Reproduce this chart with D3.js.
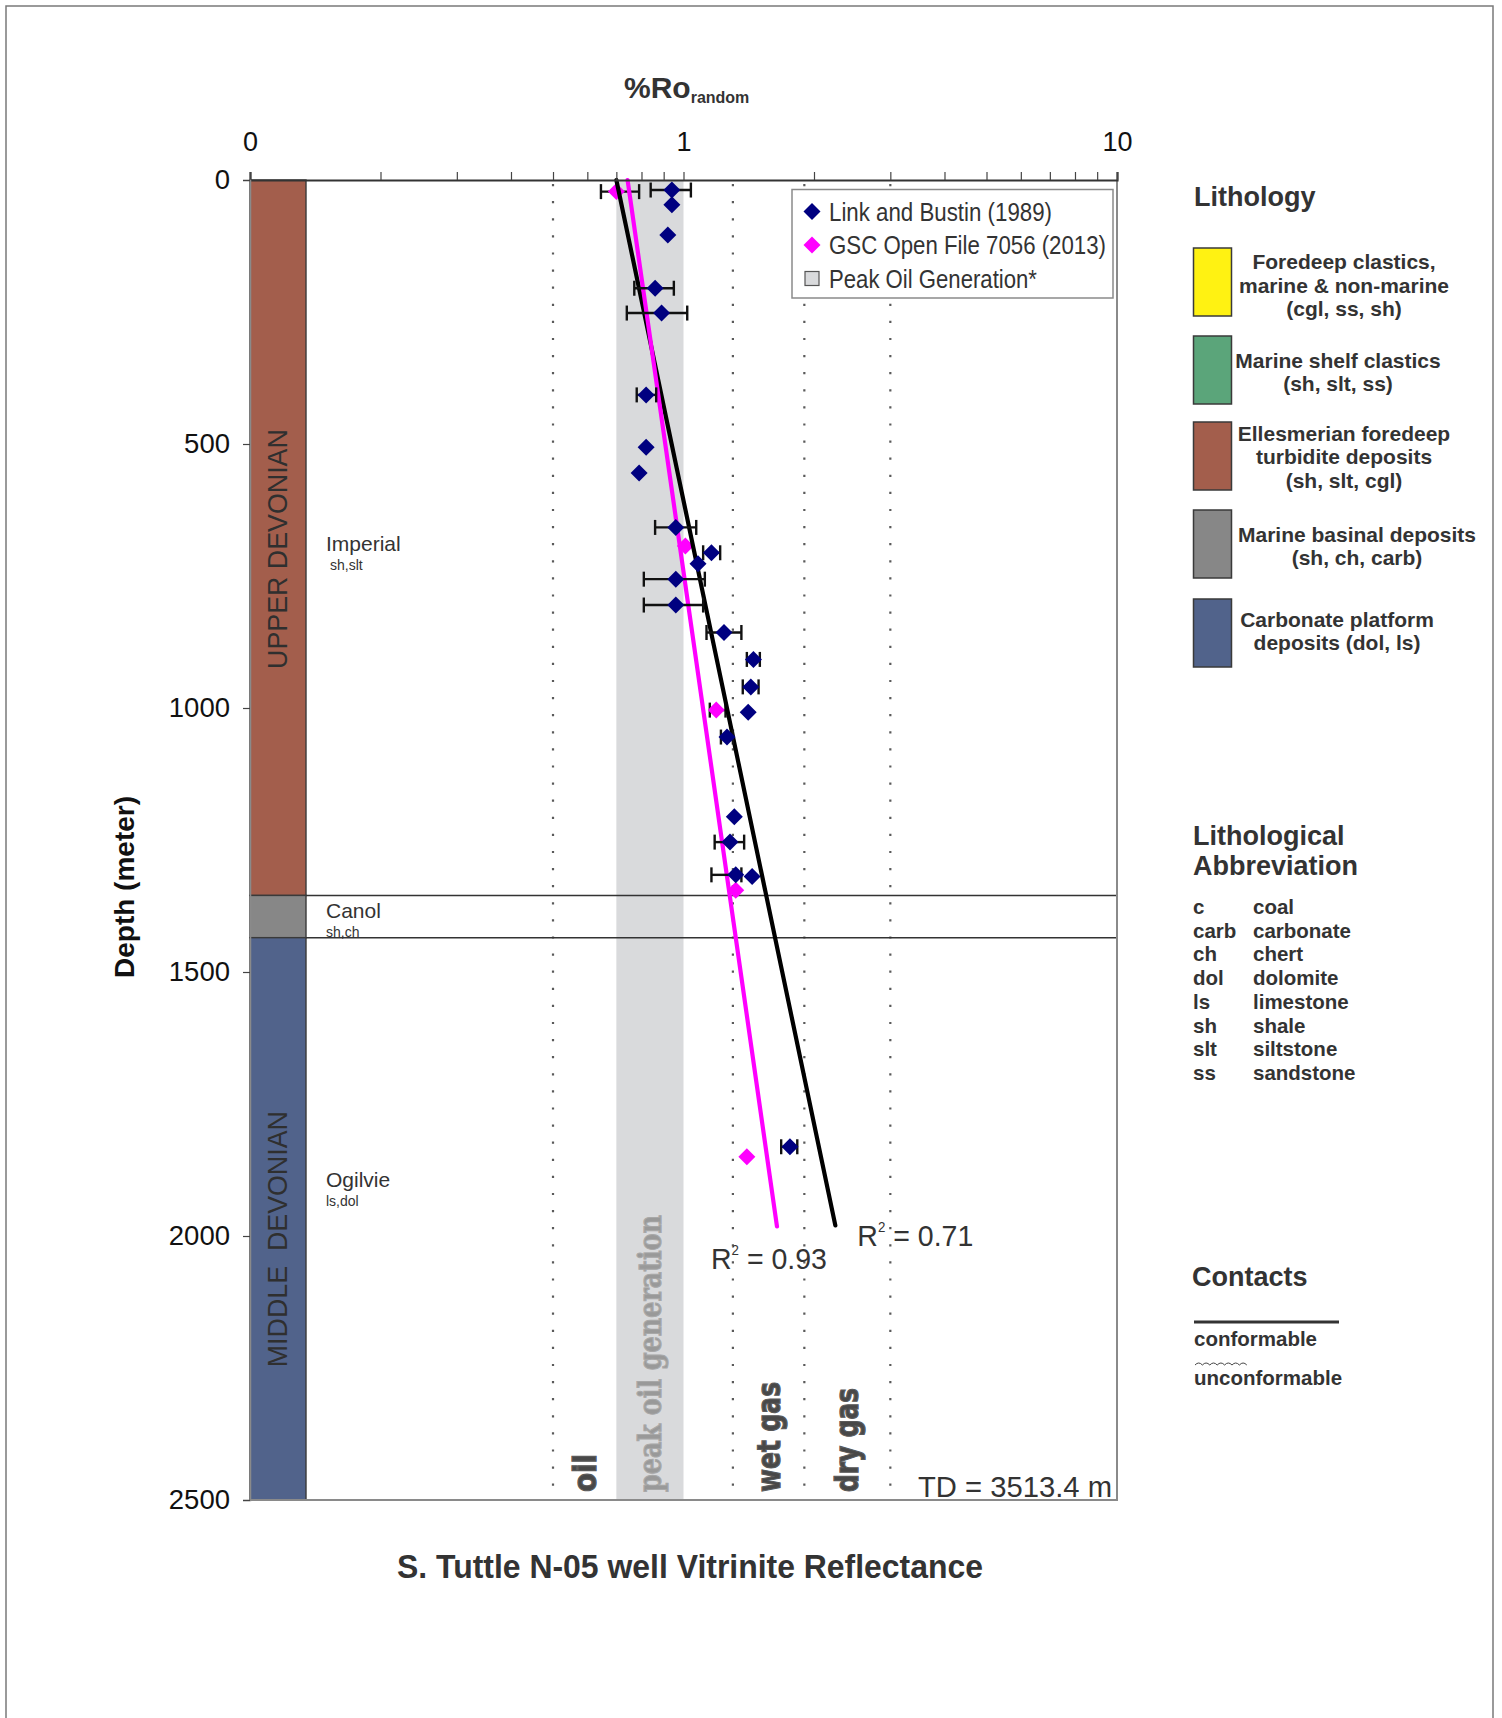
<!DOCTYPE html>
<html>
<head>
<meta charset="utf-8">
<script src="https://cdn.jsdelivr.net/npm/d3@7"></script>
<style>
  html, body { margin: 0; padding: 0; background: #fff; }
  svg { display: block; }
</style>
</head>
<body>
<script>
// ---------------- data ----------------
// %Ro axis (log scale, the 0.1 end is labelled "0")
const roDomain = [0.1, 10];
const roMajorTicks = [0.1, 1, 10];
const roMajorLabels = ["0", "1", "10"];
const roMinorTicks = [0.2, 0.3, 0.4, 0.5, 0.6, 0.7, 0.8, 0.9, 2, 3, 4, 5, 6, 7, 8, 9];

// Depth axis (m)
const depthDomain = [0, 2500];
const depthTicks = [0, 500, 1000, 1500, 2000, 2500];

// Maturity zones (%Ro)
const zoneBoundaries = [0.5, 1.3, 1.9, 3.0];
const peakOilWindow = [0.7, 1.0];
const zoneLabels = [
  { text: "oil", from: 0.5, to: 0.7 },
  { text: "peak oil generation", from: 0.7, to: 1.0 },
  { text: "wet gas", from: 1.3, to: 1.9 },
  { text: "dry gas", from: 1.9, to: 3.0 }
];

// Link and Bustin (1989) measurements: depth (m), mean %Ro, range
const linkBustin = [
  { depth: 19,   ro: 0.94, lo: 0.84, hi: 1.04 },
  { depth: 47,   ro: 0.94 },
  { depth: 104,  ro: 0.92 },
  { depth: 205,  ro: 0.86, lo: 0.77, hi: 0.95 },
  { depth: 252,  ro: 0.89, lo: 0.74, hi: 1.02 },
  { depth: 407,  ro: 0.82, lo: 0.78, hi: 0.865 },
  { depth: 506,  ro: 0.82 },
  { depth: 555,  ro: 0.79 },
  { depth: 658,  ro: 0.96, lo: 0.86, hi: 1.07 },
  { depth: 706,  ro: 1.16, lo: 1.11, hi: 1.215 },
  { depth: 727,  ro: 1.08 },
  { depth: 756,  ro: 0.96, lo: 0.81, hi: 1.12 },
  { depth: 805,  ro: 0.96, lo: 0.81, hi: 1.11 },
  { depth: 857,  ro: 1.24, lo: 1.13, hi: 1.36 },
  { depth: 908,  ro: 1.45, lo: 1.40, hi: 1.50 },
  { depth: 960,  ro: 1.43, lo: 1.37, hi: 1.49 },
  { depth: 1008, ro: 1.41 },
  { depth: 1055, ro: 1.26, lo: 1.22, hi: 1.30 },
  { depth: 1206, ro: 1.31 },
  { depth: 1254, ro: 1.28, lo: 1.18, hi: 1.38 },
  { depth: 1316, ro: 1.32, lo: 1.16, hi: 1.36 },
  { depth: 1319, ro: 1.44 },
  { depth: 1831, ro: 1.76, lo: 1.68, hi: 1.83 }
];

// GSC Open File 7056 (2013) measurements
const gscOpenFile = [
  { depth: 22,   ro: 0.70, lo: 0.645, hi: 0.79 },
  { depth: 693,  ro: 1.01 },
  { depth: 1004, ro: 1.19, lo: 1.15, hi: 1.25 },
  { depth: 1345, ro: 1.32 },
  { depth: 1850, ro: 1.40 }
];

// Exponential trend lines (straight on the log axis)
const trendLink = [{ depth: 0, ro: 0.70 }, { depth: 1980, ro: 2.24 }];
const trendGsc  = [{ depth: 0, ro: 0.743 }, { depth: 1982, ro: 1.643 }];
const r2Link = "0.71";
const r2Gsc = "0.93";

// Stratigraphic column
const formations = [
  { name: "Imperial", lith: "sh,slt", top: 0,    base: 1355, color: "#a35e4c" },
  { name: "Canol",    lith: "sh,ch",  top: 1355, base: 1435, color: "#878787" },
  { name: "Ogilvie",  lith: "ls,dol", top: 1435, base: 2500, color: "#51638b" }
];
const periods = ["UPPER DEVONIAN", "MIDDLE  DEVONIAN"];
const contactDepths = [1355, 1435];
const totalDepthText = "TD = 3513.4 m";

// Lithology key
const lithologyKey = [
  { color: "#fff212", lines: ["Foredeep clastics,", "marine & non-marine", "(cgl, ss, sh)"] },
  { color: "#5ba57a", lines: ["Marine shelf clastics", "(sh, slt, ss)"] },
  { color: "#a35e4c", lines: ["Ellesmerian foredeep", "turbidite deposits", "(sh, slt, cgl)"] },
  { color: "#878787", lines: ["Marine basinal deposits", "(sh, ch, carb)"] },
  { color: "#51638b", lines: ["Carbonate platform", "deposits (dol, ls)"] }
];
const abbrCodes = ["c", "carb", "ch", "dol", "ls", "sh", "slt", "ss"];
const abbrNames = ["coal", "carbonate", "chert", "dolomite", "limestone", "shale", "siltstone", "sandstone"];
const seriesNames = ["Link and Bustin (1989)", "GSC Open File 7056 (2013)", "Peak Oil Generation*"];

// ---------------- drawing ----------------
const W = 1502, H = 1718;
const SANS = "'Liberation Sans', Arial, Helvetica, sans-serif";
const TEXT = "#333";
const NAVY = "#000080", MAGENTA = "#ff00ff", BAND = "#d9dadc";

const plot = { left: 250, right: 1117, top: 180, bottom: 1500 };
const colWidth = 56;

const svg = d3.select("body").append("svg")
  .attr("width", W).attr("height", H)
  .attr("viewBox", `0 0 ${W} ${H}`);

// text helper; `len` squeezes the run to a fixed width (narrow lettering)
function txt(parent, str, x, y, o = {}) {
  const t = parent.append("text")
    .attr("x", x).attr("y", y)
    .attr("font-family", o.family || SANS)
    .attr("font-size", o.size || 20)
    .attr("font-weight", o.weight || "normal")
    .attr("fill", o.fill || TEXT)
    .attr("text-anchor", o.anchor || "start")
    .text(str);
  if (o.len) t.attr("textLength", o.len).attr("lengthAdjust", "spacingAndGlyphs");
  return t;
}

// page frame
svg.append("path")
  .attr("d", `M6,${H} V6 H1493 V${H}`)
  .attr("fill", "none").attr("stroke", "#7a7a7a").attr("stroke-width", 1.5);

const x = d3.scaleLog().domain(roDomain).range([plot.left, plot.right]);
const y = d3.scaleLinear().domain(depthDomain).range([plot.top, plot.bottom]);

const g = svg.append("g");

// peak oil window band
g.append("rect")
  .attr("x", x(peakOilWindow[0])).attr("y", y(0))
  .attr("width", x(peakOilWindow[1]) - x(peakOilWindow[0]))
  .attr("height", y(2500) - y(0))
  .attr("fill", BAND);

// dotted zone boundaries
g.selectAll("line.zone").data(zoneBoundaries).join("line")
  .attr("class", "zone")
  .attr("x1", d => x(d)).attr("x2", d => x(d))
  .attr("y1", y(0) + 4).attr("y2", y(2500))
  .attr("stroke", "#5a5a5a").attr("stroke-width", 2.2)
  .attr("stroke-dasharray", "2.2,14.9");

// zone labels (rotated, reading upward from the bottom)
const zoneLens = { "oil": 38, "peak oil generation": 277, "wet gas": 110, "dry gas": 104 };
zoneLabels.forEach(z => {
  const px = x(Math.sqrt(z.from * z.to));
  const isPeak = z.text.startsWith("peak");
  txt(g, z.text, 0, 0, {
    family: isPeak ? "'DejaVu Serif', 'Liberation Serif', serif" : "'DejaVu Sans', sans-serif",
    weight: "bold", size: 32,
    fill: isPeak ? "#999999" : "#484848",
    len: zoneLens[z.text]
  })
    .attr("dominant-baseline", "central")
    .attr("transform", `translate(${px},${y(2500) - 8}) rotate(-90)`)
    .attr("stroke", isPeak ? "#a8a8a8" : "#5a5a5a").attr("stroke-width", isPeak ? 1.2 : 1.3);
});

// stratigraphic column
g.selectAll("rect.fm").data(formations).join("rect")
  .attr("class", "fm")
  .attr("x", plot.left).attr("width", colWidth)
  .attr("y", d => y(d.top)).attr("height", d => y(d.base) - y(d.top))
  .attr("fill", d => d.color)
  .attr("stroke", "#3a3a3a").attr("stroke-width", 1.4);

// contacts
g.selectAll("line.contact").data(contactDepths).join("line")
  .attr("class", "contact")
  .attr("x1", plot.left + colWidth).attr("x2", plot.right)
  .attr("y1", d => y(d)).attr("y2", d => y(d))
  .attr("stroke", "#333").attr("stroke-width", 1.6);

// period names in the column
const periodCentres = [699, 2006];
periods.forEach((p, i) => {
  txt(g, p, 0, 0, { size: 26.8, fill: "#2f2f2f", anchor: "middle" })
    .attr("dominant-baseline", "central")
    .style("white-space", "pre")
    .attr("transform", `translate(${plot.left + colWidth / 2},${y(periodCentres[i])}) rotate(-90)`);
});

// formation names
const fmLabelDepth = { "Imperial": 703, "Canol": 1398, "Ogilvie": 1907 };
formations.forEach(f => {
  const by = y(fmLabelDepth[f.name]);
  txt(g, f.name, plot.left + colWidth + 20, by, { size: 21 });
  txt(g, f.lith, plot.left + colWidth + (f.name === "Imperial" ? 24 : 20), by + 19, { size: 14 });
});

// error bars and diamonds
function errorBars(data) {
  const eb = g.append("g").attr("stroke", "#111").attr("stroke-width", 2.4);
  data.filter(d => d.lo != null).forEach(d => {
    const yy = y(d.depth);
    eb.append("line").attr("x1", x(d.lo)).attr("x2", x(d.hi)).attr("y1", yy).attr("y2", yy);
    eb.append("line").attr("x1", x(d.lo)).attr("x2", x(d.lo)).attr("y1", yy - 7.5).attr("y2", yy + 7.5);
    eb.append("line").attr("x1", x(d.hi)).attr("x2", x(d.hi)).attr("y1", yy - 7.5).attr("y2", yy + 7.5);
  });
}
const diamond = "M0,-8.5L8.5,0L0,8.5L-8.5,0Z";
function points(data, color) {
  g.append("g").selectAll("path").data(data).join("path")
    .attr("d", diamond)
    .attr("transform", d => `translate(${x(d.ro)},${y(d.depth)})`)
    .attr("fill", color);
}
errorBars(gscOpenFile);
points(gscOpenFile, MAGENTA);

// trend lines
const line = d3.line().x(d => x(d.ro)).y(d => y(d.depth));
g.append("path").datum(trendLink).attr("d", line)
  .attr("fill", "none").attr("stroke", "#000").attr("stroke-width", 4.2).attr("stroke-linecap", "round");
g.append("path").datum(trendGsc).attr("d", line)
  .attr("fill", "none").attr("stroke", MAGENTA).attr("stroke-width", 4.2).attr("stroke-linecap", "round");

errorBars(linkBustin);
points(linkBustin, NAVY);

// R² labels at the ends of the trend lines
function r2Label(endPt, value, dx, dy) {
  const t = txt(g, "", x(endPt.ro) + dx, y(endPt.depth) + dy, { size: 30, len: 116 });
  t.append("tspan").text("R");
  t.append("tspan").attr("font-size", 14).attr("dy", -14).text("2");
  t.append("tspan").attr("dy", 14).text(" = " + value);
}
r2Label(trendGsc[1], r2Gsc, -66, 43);
r2Label(trendLink[1], r2Link, 22, 21);

// TD
txt(g, totalDepthText, plot.right - 5, y(2500) - 3, { size: 29, anchor: "end", len: 194 });

// plot frame (right and bottom)
g.append("path")
  .attr("d", `M${plot.right},${plot.top} V${plot.bottom} H${plot.left}`)
  .attr("fill", "none").attr("stroke", "#8a8a8a").attr("stroke-width", 2);

// axes
const topAxis = d3.axisTop(x)
  .tickValues(roMajorTicks.concat(roMinorTicks))
  .tickSize(8).tickPadding(21)
  .tickFormat(d => { const i = roMajorTicks.indexOf(d); return i >= 0 ? roMajorLabels[i] : ""; });
const ta = svg.append("g").attr("transform", `translate(0,${plot.top})`).call(topAxis);
ta.select(".domain").attr("stroke", "#333").attr("stroke-width", 2.2);
ta.selectAll(".tick line").attr("stroke", "#444").attr("stroke-width", 1.2);
ta.selectAll(".tick text").attr("font-family", SANS).attr("font-size", 27).attr("fill", "#111");

const leftAxis = d3.axisLeft(y).tickValues(depthTicks).tickSize(7).tickPadding(13).tickFormat(d3.format("d"));
const la = svg.append("g").attr("transform", `translate(${plot.left},0)`).call(leftAxis);
la.select(".domain").attr("stroke", "#8a8a8a").attr("stroke-width", 1.5);
la.selectAll(".tick line").attr("stroke", "#444").attr("stroke-width", 1.2);
la.selectAll(".tick text").attr("font-family", SANS).attr("font-size", 27.5).attr("fill", "#111");

// axis titles
const xt = txt(svg, "", 624, 98, { size: 30, weight: "bold" });
xt.append("tspan").text("%Ro");
xt.append("tspan").attr("font-size", 16).attr("dy", 5).text("random");

txt(svg, "Depth (meter)", 0, 0, { size: 28, weight: "bold", fill: "#111", anchor: "middle" })
  .attr("dominant-baseline", "central")
  .attr("transform", `translate(124,887) rotate(-90)`);

// chart title
txt(svg, "S. Tuttle N-05 well Vitrinite Reflectance", 690, 1578,
  { size: 33, weight: "bold", anchor: "middle", len: 586 });

// series legend
const lg = svg.append("g");
lg.append("rect").attr("x", 792).attr("y", 189.5).attr("width", 321).attr("height", 108.5)
  .attr("fill", "#fff").attr("stroke", "#8a8a8a").attr("stroke-width", 1.5);
const legendLens = [223, 277, 208];
const legendRows = [211.5, 245, 278.5];
seriesNames.forEach((s, i) => {
  const cy = legendRows[i];
  if (i < 2) {
    lg.append("path").attr("d", diamond).attr("transform", `translate(812,${cy})`)
      .attr("fill", i === 0 ? NAVY : MAGENTA);
  } else {
    lg.append("rect").attr("x", 805).attr("y", cy - 7).attr("width", 14).attr("height", 14)
      .attr("fill", BAND).attr("stroke", "#555").attr("stroke-width", 1.2);
  }
  txt(lg, s, 829, cy + 9, { size: 25.5, len: legendLens[i] });
});

// right panel: lithology key
const rp = svg.append("g");
txt(rp, "Lithology", 1194, 206, { size: 27, weight: "bold" });
const swTops = [248, 336, 422, 510, 599];
const keyCenters = [1344, 1338, 1344, 1357, 1337];
const keyFirstLine = [261.5, 360, 433, 534, 619];
lithologyKey.forEach((k, i) => {
  rp.append("rect").attr("x", 1193.5).attr("y", swTops[i]).attr("width", 38).attr("height", 68)
    .attr("fill", k.color).attr("stroke", "#3a3a3a").attr("stroke-width", 1.5);
  k.lines.forEach((l, j) => {
    txt(rp, l, keyCenters[i], keyFirstLine[i] + j * 23.5 + 7.5, { size: 21, weight: "bold", anchor: "middle" });
  });
});

// abbreviations
txt(rp, "Lithological", 1193, 845, { size: 27, weight: "bold" });
txt(rp, "Abbreviation", 1193, 875, { size: 27, weight: "bold" });
abbrCodes.forEach((c, i) => {
  const by = 914 + i * 23.7;
  txt(rp, c, 1193, by, { size: 20.5, weight: "bold" });
  txt(rp, abbrNames[i], 1253, by, { size: 20.5, weight: "bold" });
});

// contacts key
txt(rp, "Contacts", 1192, 1286, { size: 27, weight: "bold" });
rp.append("line").attr("x1", 1194).attr("x2", 1339).attr("y1", 1322).attr("y2", 1322)
  .attr("stroke", "#333").attr("stroke-width", 2.8);
txt(rp, "conformable", 1194, 1346, { size: 20.5, weight: "bold" });
let wave = "M1195,1365";
for (let i = 0; i < 7; i++) {
  const x0 = 1195 + i * 7.4;
  wave += ` Q${x0 + 3.7},${1361} ${x0 + 7.4},${1365}`;
}
rp.append("path").attr("d", wave).attr("fill", "none").attr("stroke", "#444").attr("stroke-width", 1);
txt(rp, "unconformable", 1194, 1385, { size: 20.5, weight: "bold" });
</script>
</body>
</html>
